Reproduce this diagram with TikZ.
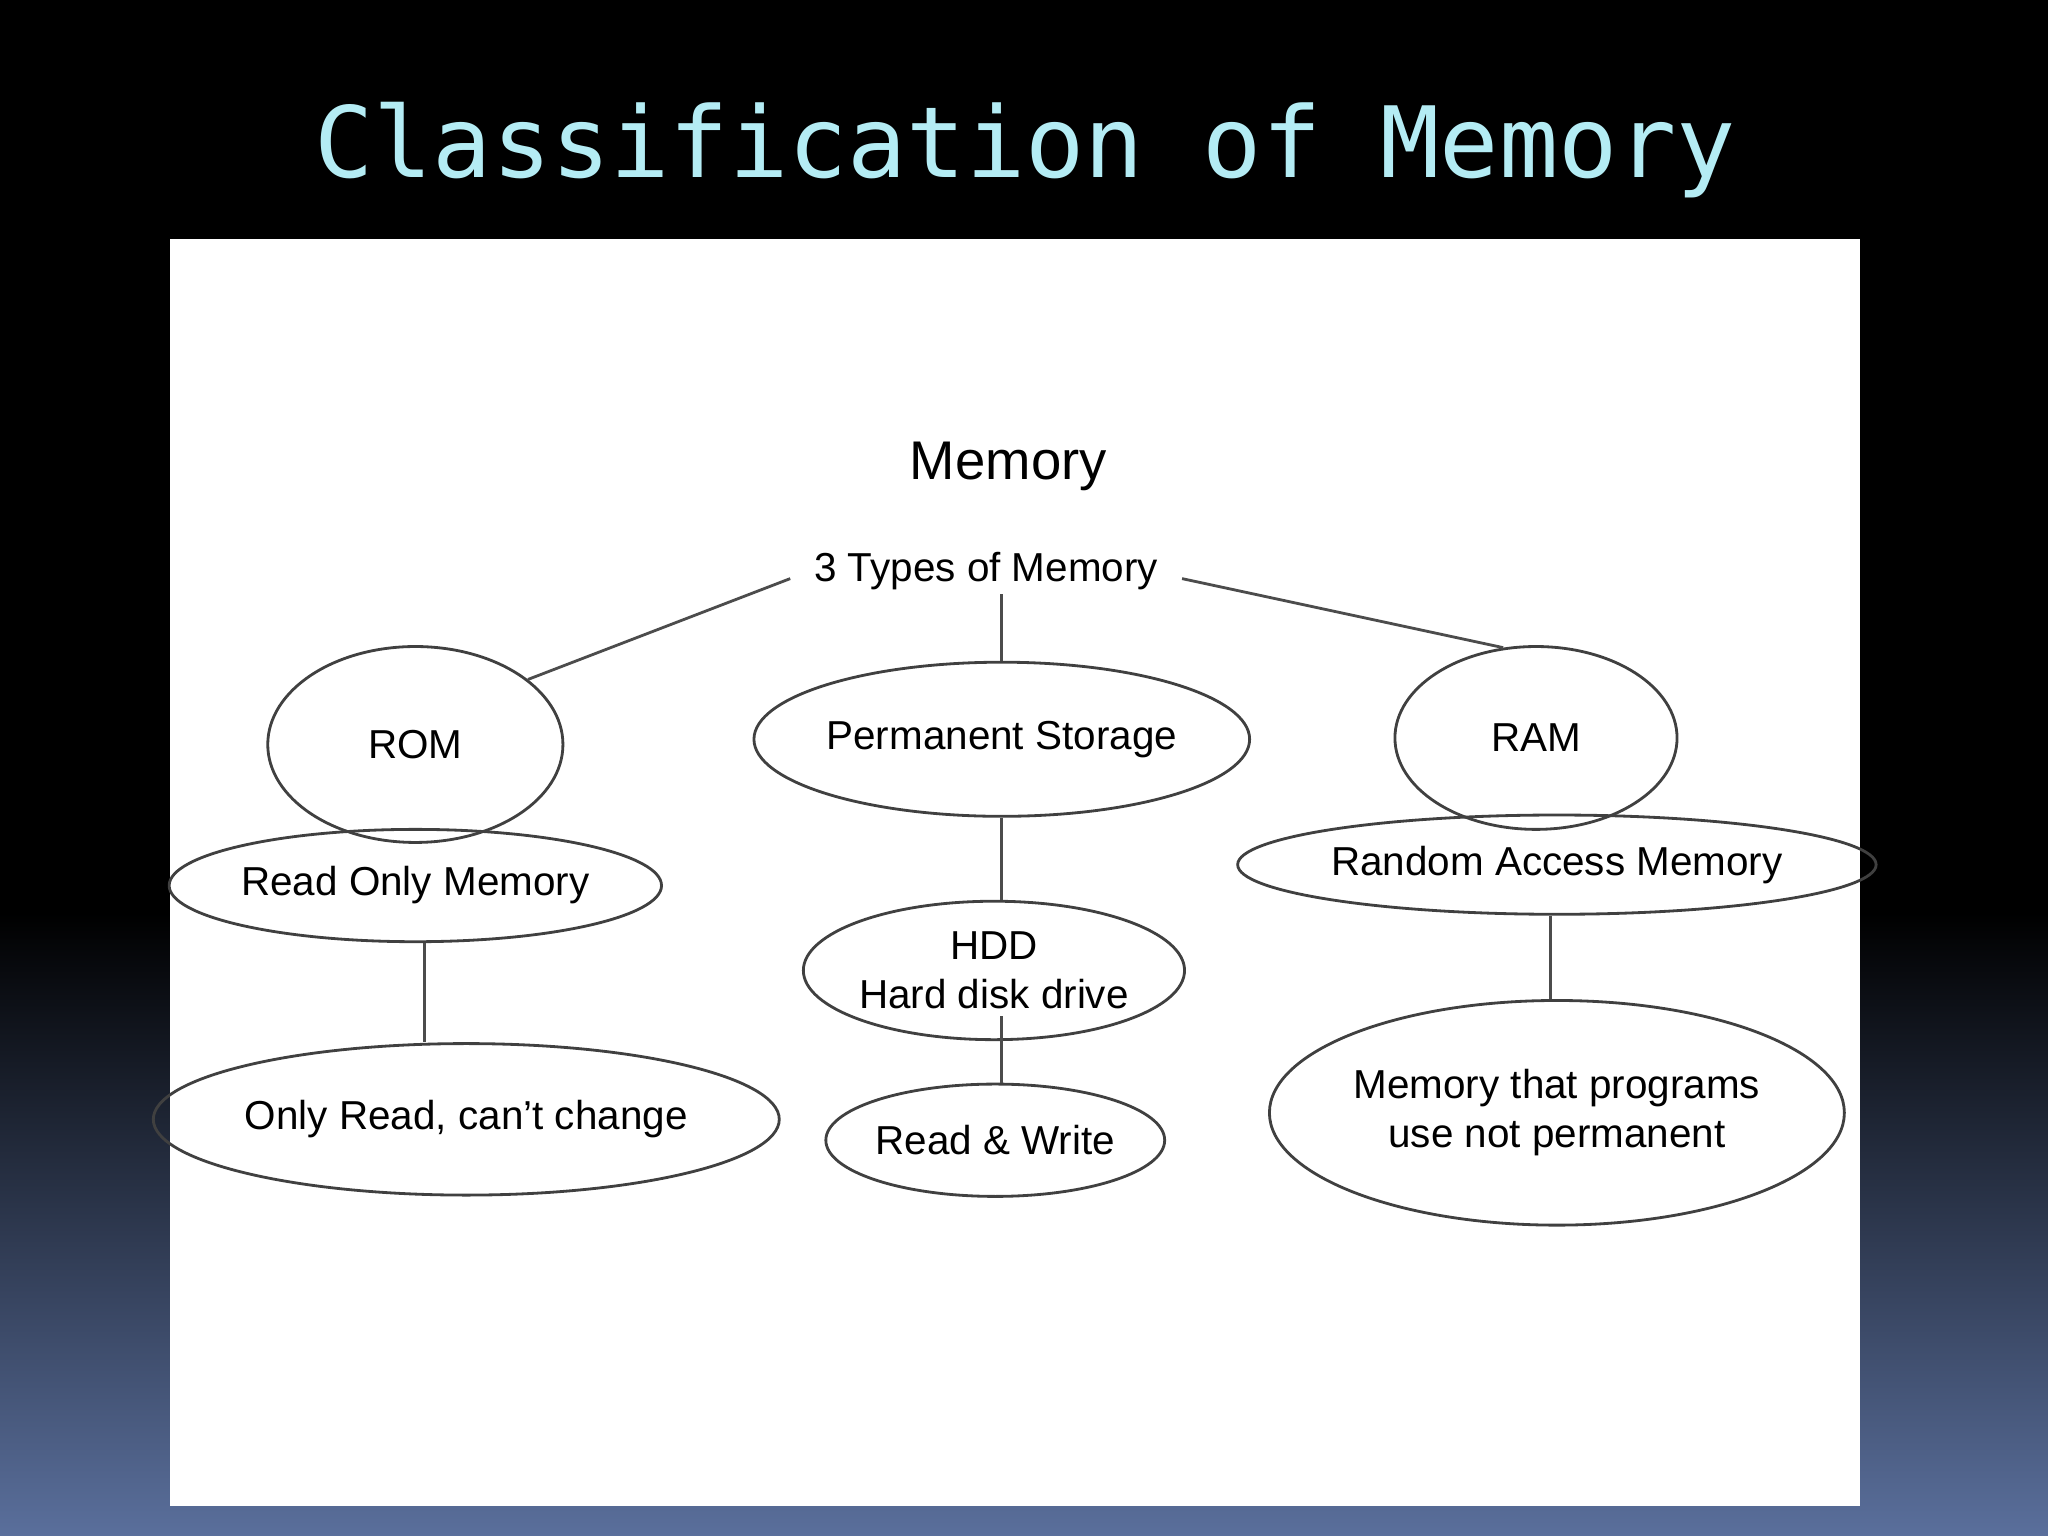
\documentclass[tikz,border=0pt]{standalone}
\usepackage{fontspec}
\setmainfont{Liberation Sans}
\newfontfamily\titlefont{DejaVu Sans Mono}
\definecolor{titlecyan}{HTML}{B4ECF4}
\definecolor{bgblue}{HTML}{5A6F9C}
\usetikzlibrary{shapes.geometric}
\tikzset{
  oval/.style 2 args={ellipse, draw=black!75, line width=0.8pt, inner sep=0pt,
    minimum width=#1*0.013061cm, minimum height=#2*0.013061cm,
    font=\fontsize{11.5}{14}\selectfont, align=center},
  link/.style={draw=black!70, line width=0.8pt}
}
\begin{document}
\begin{tikzpicture}[x=0.013061cm,y=-0.013061cm]
\useasboundingbox (0,0) rectangle (1568,1176);
\fill[black] (0,0) rectangle (1568,700);
\shade[top color=black, bottom color=bgblue] (0,699) rectangle (1568,1176);
\fill[white] (130,183) rectangle (1424,1153);
\node[text=titlecyan, font=\titlefont\fontsize{28}{32}\selectfont] (title) at (785,115) {Classification of Memory};
\node[font=\fontsize{15.5}{18}\selectfont] (mem) at (772,357) {Memory};
\node[font=\fontsize{11.5}{14}\selectfont] (types) at (755,437) {3 Types of Memory};
\node[oval={226}{150}] (rom) at (318,570) {ROM};
\node[oval={314}{86}] (rodesc) at (318,678) {Read Only Memory};
\node[oval={410}{116}] (ronly) at (357,857) {Only Read, can't change};
\node[oval={324}{118}] (perm) at (767,566) {Permanent Storage};
\node[oval={248}{106}] (hdd) at (761,743) {HDD\\Hard disk drive};
\node[oval={226}{86}] (rw) at (762,873) {Read \& Write};
\node[oval={216}{140}] (ram) at (1176,565) {RAM};
\node[oval={398}{76}] (radesc) at (1192,662) {Random Access Memory};
\node[oval={356}{172}] (prog) at (1192,852) {Memory that programs\\use not permanent};
\coordinate (tl) at (605,443);
\coordinate (tm) at (767,455);
\coordinate (tr) at (905,443);
\draw[link] (tl) -- (rom.30);
\draw[link] (tm) -- (perm.north);
\draw[link] (tr) -- (ram.110);
\draw[link] (perm.south) -- (hdd.north -| perm.south);
\draw[link] (325,722) coordinate (a) -- (ronly.north -| a);
\draw[link] (767,778) coordinate (b) -- (rw.north -| b);
\draw[link] (radesc.south -| 1187,0) -- (prog.north -| 1187,0);
\end{tikzpicture}
\end{document}
